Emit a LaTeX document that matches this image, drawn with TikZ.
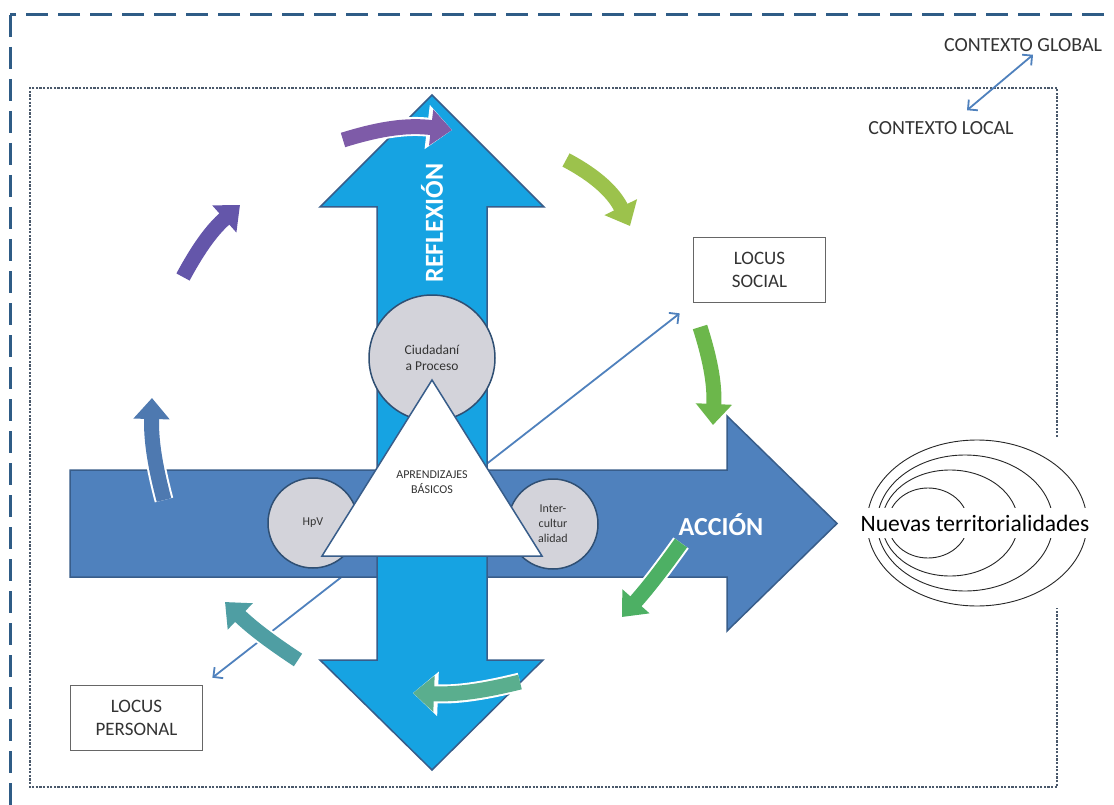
\documentclass[tikz,border=0pt]{standalone}
\usepackage{fontspec}
\setmainfont{Carlito}
\usetikzlibrary{arrows.meta}
\definecolor{AccBlue}{HTML}{4F81BD}
\definecolor{AccLine}{HTML}{385D8A}
\definecolor{RefBlue}{HTML}{16A3E2}
\definecolor{FrameDash}{HTML}{2F5C86}
\definecolor{FrameDot}{HTML}{4A596B}
\definecolor{CoreGray}{HTML}{D3D3DA}
\definecolor{CoreLine}{HTML}{2F4F73}
\definecolor{TxtGray}{HTML}{333333}
\definecolor{CycPurple}{HTML}{7E5BA8}
\definecolor{CycIndigo}{HTML}{6456AA}
\definecolor{CycSteel}{HTML}{4E79B0}
\definecolor{CycTeal}{HTML}{4F9EA3}
\definecolor{CycSea}{HTML}{5AAE8E}
\definecolor{CycGreen}{HTML}{4DB064}
\definecolor{CycLeaf}{HTML}{6CB74B}
\definecolor{CycLime}{HTML}{9CC24C}

\begin{document}
\begin{tikzpicture}[x=1pt, y=1pt,
  locus/.style={rectangle, draw=black!60, fill=white, line width=0.8pt,
                minimum width=132pt, minimum height=65pt,
                font=\fontsize{19}{23}\selectfont, text=TxtGray, align=center},
  ctx/.style={font=\fontsize{20}{24}\selectfont, text=TxtGray, inner sep=1pt},
  core/.style={circle, draw=CoreLine, line width=1.5pt, fill=CoreGray, inner sep=0pt,
               font=\fontsize{12}{15}\selectfont, text=TxtGray, align=center},
  bigw/.style={font=\fontsize{26}{30}\selectfont\bfseries, text=white},
  lbl/.style={font=\fontsize{12}{15}\selectfont, text=TxtGray, align=center},
  lnk/.style={{Straight Barb[length=7pt]}-{Straight Barb[length=7pt]}, line width=1.8pt, color=AccBlue},
  ripple/.style={draw=black!85, line width=0.9pt},
  cyc/.style={line width=15pt, draw=#1, -{Triangle[length=21pt, width=35pt]},
              preaction={draw=white, line width=19pt, -{Triangle[length=25pt, width=43pt]}}},
  outerdash/.style={draw=FrameDash, line width=3pt, dash pattern=on 22pt off 10pt},
  innerdot/.style={draw=FrameDot, line width=2.8pt, dash pattern=on 2.2pt off 1.4pt}
]
  \path[use as bounding box] (0,0) rectangle (1114,-805);
  \clip (0,0) rectangle (1114,-805);
  \fill[white] (0,0) rectangle (1114,-805);
  \draw[outerdash] (10,-15) rectangle (1140,-840);
  \draw[innerdot] (1057,-437) -- (1057,-88) -- (30,-88) -- (30,-787) -- (1057,-787) -- (1057,-608);

  \node[ctx] (glob) at (1023,-45) {CONTEXTO GLOBAL};
  \node[ctx] (loc) at (941,-128) {CONTEXTO LOCAL};
  \draw[lnk] ([xshift=10pt,yshift=-2pt]glob.south) -- ([xshift=26pt,yshift=10pt]loc.north);

  \node[locus] (soc) at (759.5,-270) {LOCUS\\SOCIAL};
  \node[locus] (per) at (136.5,-718) {LOCUS\\PERSONAL};
  \draw[lnk, shorten <=12pt, shorten >=17pt] (per.north east) -- (soc.south west);

  \fill[AccBlue, draw=AccLine, line width=1.5pt]
    (70,-470) -- (727,-470) -- (727,-416) -- (837,-523.5) -- (727,-631) -- (727,-577) -- (70,-577) -- cycle;
  \fill[RefBlue, draw=AccLine, line width=1.5pt]
    (377,-207) -- (320,-207) -- (432,-95) -- (544,-207) -- (487,-207) -- (487,-660)
    -- (543,-660) -- (432,-770) -- (320,-660) -- (377,-660) -- cycle;

  \node[core, minimum size=126pt, font=\fontsize{13.5}{16}\selectfont] (ciu) at (432,-358) {Ciudadaní\\a Proceso};
  \node[core, minimum size=90pt] (hpv) at (313,-523) {HpV};
  \node[core, minimum size=90pt] (inter) at (553,-524) {Inter-\\cultur\\alidad};
  \filldraw[fill=white, draw=AccLine, line width=1.5pt] (432,-380) -- (322,-556) -- (542,-556) -- cycle;
  \node[lbl] (apr) at (432,-482) {APRENDIZAJES\\BÁSICOS};

  \node[bigw, rotate=90] (refl) at (432,-223) {REFLEXIÓN};
  \node[bigw] (acc) at (721,-525) {ACCIÓN};

  \foreach \cx/\rx/\ry in {977/110/83, 965/88/68, 950/68/53, 928/40/35}
    \draw[ripple] (\cx,-523) ellipse [x radius=\rx pt, y radius=\ry pt];
  \node[fill=white, inner xsep=2pt, inner ysep=7pt, font=\fontsize{23.5}{28}\selectfont] (terr) at (975,-523) {Nuevas territorialidades};

  \coordinate (c1a) at (343,-140);  \coordinate (c1b) at (452,-130);
  \coordinate (c2a) at (183,-277);  \coordinate (c2b) at (240,-205);
  \coordinate (c3a) at (164,-500);  \coordinate (c3b) at (152,-398);
  \coordinate (c4a) at (298,-660);  \coordinate (c4b) at (225,-602);
  \coordinate (c5a) at (520,-682);  \coordinate (c5b) at (413,-693);
  \coordinate (c6a) at (681,-543);  \coordinate (c6b) at (622,-617);
  \coordinate (c7a) at (700,-327);  \coordinate (c7b) at (713,-425);
  \coordinate (c8a) at (566,-160);  \coordinate (c8b) at (630,-226);
  \draw[cyc=CycPurple] (c1a) to[bend left=12] (c1b);
  \draw[cyc=CycIndigo] (c2a) to[bend left=10] (c2b);
  \draw[cyc=CycSteel]  (c3a) to[bend left=8] (c3b);
  \draw[cyc=CycTeal]   (c4a) to[bend left=5] (c4b);
  \draw[cyc=CycSea]    (c5a) to[bend left=8] (c5b);
  \draw[cyc=CycGreen]  (c6a) to[bend left=3] (c6b);
  \draw[cyc=CycLeaf]   (c7a) to[bend left=10] (c7b);
  \draw[cyc=CycLime]   (c8a) to[bend left=18] (c8b);
\end{tikzpicture}
\end{document}
